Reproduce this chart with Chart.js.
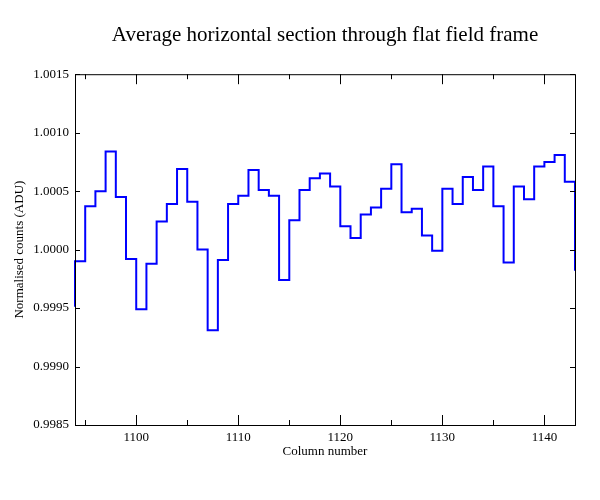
<!DOCTYPE html>
<html>
<head>
<meta charset="utf-8">
<script src="https://cdn.jsdelivr.net/npm/chart.js@4/dist/chart.umd.min.js"></script>
<style>
  body { margin: 0; background: #fff; }
</style>
</head>
<body>
<canvas id="myChart" width="600" height="500"></canvas>
<script>
// column numbers (each value spans [col, col+1])
const columns = [1093, 1094, 1095, 1096, 1097, 1098, 1099, 1100, 1101, 1102, 1103, 1104, 1105, 1106, 1107, 1108, 1109,
  1110, 1111, 1112, 1113, 1114, 1115, 1116, 1117, 1118, 1119, 1120, 1121, 1122, 1123, 1124, 1125, 1126,
  1127, 1128, 1129, 1130, 1131, 1132, 1133, 1134, 1135, 1136, 1137, 1138, 1139, 1140, 1141, 1142, 1143];
const counts = [0.99952, 0.99990, 1.00037, 1.00050, 1.00084, 1.00045, 0.99992, 0.99949, 0.99988, 1.00024, 1.00039, 1.00069,
  1.00041, 1.00000, 0.99931, 0.99991, 1.00039, 1.00046, 1.00068, 1.00051, 1.00046, 0.99974, 1.00025, 1.00051,
  1.00061, 1.00065, 1.00054, 1.00020, 1.00010, 1.00030, 1.00036, 1.00052, 1.00073, 1.00032, 1.00035, 1.00012,
  0.99999, 1.00052, 1.00039, 1.00062, 1.00051, 1.00071, 1.00037, 0.99989, 1.00054, 1.00043, 1.00071, 1.00075,
  1.00081, 1.00058, 0.99982];
const xTicks = [1100, 1110, 1120, 1130, 1140];
const xMinorTicks = [1095, 1105, 1115, 1125, 1135];
const yTicks = [0.9985, 0.9990, 0.9995, 1.0000, 1.0005, 1.0010, 1.0015];

const serif = "'Liberation Serif', 'DejaVu Serif', serif";

// frame + inward ticks like the old plotting package
const framePlugin = {
  id: 'frame',
  afterDraw(chart) {
    const ctx = chart.ctx;
    const a = chart.chartArea;
    const xs = chart.scales.x, ys = chart.scales.y;
    ctx.save();
    ctx.strokeStyle = '#000';
    ctx.lineWidth = 1;
    ctx.strokeRect(a.left + 0.5, a.top + 0.5, a.right - a.left, a.bottom - a.top);
    ctx.beginPath();
    function xt(v, len) {
      const px = Math.round(xs.getPixelForValue(v)) + 0.5;
      ctx.moveTo(px, a.bottom); ctx.lineTo(px, a.bottom - len);
      ctx.moveTo(px, a.top); ctx.lineTo(px, a.top + len);
    }
    xTicks.forEach(v => xt(v, 10));
    xMinorTicks.forEach(v => xt(v, 5));
    yTicks.forEach(v => {
      const py = Math.round(ys.getPixelForValue(v)) + 0.5;
      ctx.moveTo(a.left, py); ctx.lineTo(a.left + 5, py);
      ctx.moveTo(a.right, py); ctx.lineTo(a.right - 5, py);
    });
    ctx.stroke();
    ctx.restore();
  }
};

const ctx = document.getElementById('myChart').getContext('2d');
new Chart(ctx, {
  type: 'line',
  data: {
    datasets: [{
      data: columns.map((c, i) => ({x: c, y: counts[i]})),
      stepped: 'before',
      borderColor: '#0000ff',
      borderWidth: 2,
      pointRadius: 0,
      fill: false,
      clip: {left: 1, right: 1, top: 0, bottom: 0}
    }]
  },
  options: {
    responsive: false,
    animation: false,
    layout: {padding: {left: 0, right: 25, top: 0, bottom: 0}},
    plugins: {
      legend: {display: false},
      tooltip: {enabled: false},
      title: {
        display: true,
        text: 'Average horizontal section through flat field frame',
        fullSize: false,
        color: '#000',
        font: {family: serif, size: 21, weight: 'normal'},
        padding: {top: 23, bottom: 26}
      }
    },
    scales: {
      x: {
        type: 'linear',
        min: 1094,
        max: 1143,
        grid: {display: false, drawTicks: false},
        border: {display: false},
        afterBuildTicks: s => { s.ticks = xTicks.map(v => ({value: v})); },
        afterFit: s => { s.height = 75; },
        ticks: {color: '#000', font: {family: serif, size: 13}, padding: 5, maxRotation: 0,
          callback: v => String(v)},
        title: {display: true, text: 'Column number', color: '#000',
          font: {family: serif, size: 13}, padding: {top: 0, bottom: 41}}
      },
      y: {
        min: 0.9985,
        max: 1.0015,
        grid: {display: false, drawTicks: false},
        border: {display: false},
        afterBuildTicks: s => { s.ticks = yTicks.map(v => ({value: v})); },
        afterFit: s => { s.width = 75; },
        ticks: {color: '#000', font: {family: serif, size: 13}, padding: 6,
          callback: v => v.toFixed(4)},
        title: {display: true, text: 'Normalised counts (ADU)', color: '#000',
          font: {family: serif, size: 13}, padding: {top: 12, bottom: 0}}
      }
    }
  },
  plugins: [framePlugin]
});
</script>
</body>
</html>
